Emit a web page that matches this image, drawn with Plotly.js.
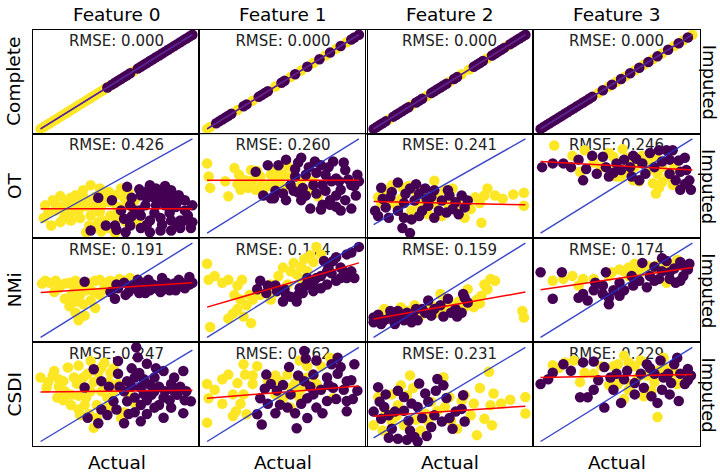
<!DOCTYPE html>
<html><head><meta charset="utf-8">
<script src="https://cdn.plot.ly/plotly-3.0.1.min.js"></script>
<style>html,body{margin:0;padding:0;background:#fff}#chart{width:720px;height:475px}</style>
</head><body><div id="chart"></div><script>
// ---------------- data (normalised units: actual range of each feature = 0..100) ----------------
const featureNames = ['Feature 0', 'Feature 1', 'Feature 2', 'Feature 3'];
const methodNames = ['Complete', 'OT', 'NMi', 'CSDI'];
const rmseLabels = [
  ['0.000', '0.000', '0.000', '0.000'],
  ['0.426', '0.260', '0.241', '0.246'],
  ['0.191', '0.174', '0.159', '0.174'],
  ['0.247', '0.262', '0.231', '0.229']
];
// regression line: imputed value at actual = 0 and at actual = 100
const fitStart = [[0, 0, 0, 0], [17, 56, 27, 76], [47.5, 32, 19.5, 50.5], [54, 46, 24, 68]];
const fitEnd   = [[100, 100, 100, 100], [17, 56, 23, 67], [58, 79, 48, 74], [56, 59, 35, 71]];

// Complete: imputed == actual
const C_F0_yellow = [0, 2, 4, 6, 8, 10, 12, 14, 16, 18, 20, 22, 24, 26, 28, 30, 32, 34, 36, 38, 40, 42, 44, 46, 61];
const C_F0_purple = [44, 47, 49, 51, 53, 55, 57, 59, 64, 66, 68, 70, 72, 74, 76, 78, 80, 82, 84, 86, 88, 90, 92, 94, 96, 98, 100];
const C_F1_yellow = [0, 2, 20, 30, 45, 55, 62, 70, 78, 85, 92];
const C_F1_purple = [6, 8, 10, 12, 14, 16, 24, 26, 34, 36, 38, 40, 49, 51, 58, 66, 74, 81, 88, 95, 97, 100];
const C_F2_yellow = [10, 25, 35, 50, 58, 63, 75, 88];
const C_F2_purple = [0, 2, 4, 6, 8, 13, 15, 17, 19, 21, 23, 28, 30, 32, 38, 40, 42, 44, 46, 48, 53, 55, 66, 68, 70, 72, 78, 80, 82, 84, 86, 90, 92, 94, 96, 98, 100];
const C_F3_yellow = [38, 45, 50, 56, 62, 68, 74, 80, 88, 94, 100];
const C_F3_purple = [0, 2, 4, 6, 8, 10, 12, 14, 16, 18, 20, 22, 24, 26, 28, 30, 32, 34, 41, 47, 53, 59, 65, 71, 77, 84, 91, 97];

// OT
const OT_F0_yellowX = [3,2,8,13,18,23,10,16,21,28,33,39,45,30,36,43,49,53,58,62,56,61,51,46,39,33,26,32,38,45,49,56,30,20,13,7,64,
  5,10,15,20,25,25,30,35,40,40,45,50,55,60,50,42,35,40,20,28,15];
const OT_F0_yellowY = [21,6,27,32,27,33,15,13,19,39,45,41,37,27,31,27,33,41,37,27,21,12,13,9,13,9,6,-3,1,-6,-12,1,-11,3,1,-3,1,
  12,22,20,12,15,25,20,20,20,35,25,20,30,20,5,2,-5,-10,30,32,5];
const OT_F0_purpleX = [38,33,57,47,53,59,66,71,76,80,86,91,95,100,69,76,82,89,97,100,92,86,79,72,66,59,66,72,79,86,92,99,56,49,43,62,79,72,82,
  60,65,70,75,80,85,90,95,85,75,65,60,70,80,90,95,55,50,85,75];
const OT_F0_purpleY = [30,-9,43,27,15,21,33,39,41,37,39,33,27,21,21,21,21,19,9,1,3,3,6,3,9,-3,-6,-11,-9,-9,-6,-6,-11,-3,-3,15,33,45,44,
  30,40,30,30,28,30,25,15,12,12,15,8,-2,-2,-2,3,5,-8,20,40];
const OT_F1_yellowX = [0,1,2,14,18,21,25,29,22,32,36,42,46,55,68,62,73,45,51,37,53,
  30,35,27,40,48,20,12,33,58,65,70,50];
const OT_F1_yellowY = [74,60,48,39,69,62,56,67,46,46,51,62,67,60,46,56,39,53,49,42,71,
  56,60,48,50,58,52,55,66,48,60,55,62];
const OT_F1_purpleX = [32,37,40,52,62,71,75,83,91,99,95,88,81,91,98,85,76,76,88,95,42,52,60,44,55,65,70,62,68,81,47,58,
  45,50,57,63,67,72,78,82,87,93,97,85,78,72,65,58,60,80,90,100,85,75];
const OT_F1_purpleY = [65,40,72,78,80,76,72,76,67,62,51,46,35,35,40,58,51,30,24,26,37,35,43,37,51,62,51,35,26,30,72,68,
  45,42,45,48,70,64,62,55,55,57,50,40,45,42,40,60,75,70,75,55,28,25];
const OT_F2_yellowX = [40,99,99,75,73,80,71,64,60,47,49,45,40,32,23,19,8,3,14,25,36,58,67,
  10,18,28,12,30,42,52,55,5,85,92,70];
const OT_F2_yellowY = [51,37,22,42,34,34,2,18,8,40,24,10,24,32,45,43,40,32,24,16,12,32,32,
  30,30,38,46,24,32,42,20,25,30,35,25];
const OT_F2_purpleX = [19,24,1,5,3,11,16,21,27,32,25,34,38,43,49,54,58,60,56,16,8,28,36,
  6,12,20,24,30,35,40,45,50,52,30,20,10,40,62,48];
const OT_F2_purpleY = [-4,-10,16,43,10,32,49,36,28,16,6,42,32,16,40,26,34,20,12,16,20,47,22,
  30,38,25,42,36,30,40,28,34,18,10,8,8,8,28,14];
const OT_F3_yellowX = [9,21,26,29,48,54,56,50,67,76,77,74,80,76,87,80,61,53,
  35,45,58,62,70,84,72,88,50,40,65,78];
const OT_F3_yellowY = [93,82,65,88,81,89,67,70,82,81,63,53,54,42,51,70,56,60,
  75,85,80,70,65,60,75,70,60,70,55,48];
const OT_F3_purpleX = [1,8,15,28,37,41,43,45,59,63,65,69,61,87,91,96,98,92,99,83,85,89,67,34,
  20,25,30,50,55,72,78,80,92,95,85,75,53,48,95,60];
const OT_F3_purpleY = [70,74,74,56,63,81,70,60,70,79,56,63,82,88,77,67,56,46,46,88,63,56,74,82,
  70,78,68,74,78,85,88,76,65,80,78,70,67,64,52,60];

// NMi
const NMI_F0_yellowX = [1,6,13,19,26,33,39,46,52,59,64,9,16,19,23,25,29,33,26,39,36,47,42,
  3,10,16,23,30,36,43,50,56,62,12,22,30,20,28,23,35];
const NMI_F0_yellowY = [57,58,55,58,56,58,61,60,62,63,61,48,41,33,26,18,23,39,45,45,31,50,52,
  60,60,57,60,56,60,58,57,60,58,52,50,50,44,35,38,48];
const NMI_F0_purpleX = [46,51,56,60,66,71,76,80,86,91,96,100,69,79,89,98,64,29,49,
  50,55,62,68,74,78,83,88,93,98,72,85,95,58,65,81];
const NMI_F0_purpleY = [48,52,45,55,50,61,52,63,54,61,55,58,47,48,50,64,61,59,41,
  56,58,52,58,56,55,58,57,58,56,50,50,52,48,47,51];
const NMI_F1_yellowX = [0,1,2,14,23,18,17,24,29,26,22,42,50,57,64,68,72,59,66,53,66,42,
  5,10,20,28,30,35,47,55,62,70,75,62,20,14,45];
const NMI_F1_yellowY = [78,61,11,61,61,45,25,22,15,34,40,56,74,79,83,87,96,67,70,56,56,40,
  65,58,55,45,40,45,65,70,75,80,88,62,30,20,48];
const NMI_F1_purpleX = [100,92,83,88,97,88,79,72,79,70,61,55,50,59,46,35,33,39,66,77,92,51,
  40,45,52,60,65,70,75,82,85,90,95,75,63,85,95,80];
const NMI_F1_purpleY = [96,88,81,74,63,63,70,63,56,49,52,43,38,38,49,60,51,47,63,81,63,51,
  55,55,45,45,55,58,65,68,60,70,70,52,47,85,90,75];
const NMI_F2_yellowX = [77,75,71,66,62,98,99,44,51,38,27,18,7,3,14,31,60,42,
  5,10,22,33,46,55,70,73,68,56,80,48];
const NMI_F2_yellowY = [62,51,44,32,51,28,21,46,34,34,34,32,30,23,21,23,32,26,
  20,26,28,28,30,30,36,56,40,38,60,40];
const NMI_F2_purpleX = [59,36,0,0,7,15,22,29,25,38,44,51,58,62,11,32,20,49,
  3,10,18,26,34,40,46,54,16,5,14,28,60,55];
const NMI_F2_purpleY = [46,39,21,16,18,23,26,18,16,23,34,26,26,37,28,30,18,41,
  24,20,22,22,26,30,22,30,28,14,14,30,42,22];
const NMI_F3_yellowX = [8,21,28,25,52,58,63,70,76,81,89,83,58,47,
  55,60,66,72,78,85,90,65,45,35,15,62];
const NMI_F3_yellowY = [60,65,62,55,72,74,72,76,76,81,79,58,65,69,
  70,70,74,73,72,76,82,68,65,62,62,78];
const NMI_F3_purpleX = [0,14,8,31,28,41,41,45,43,52,52,61,70,67,72,78,85,89,94,98,94,83,36,
  75,80,88,92,97,85,75,65,55,48,35,25,45,60,92,80];
const NMI_F3_purpleY = [69,69,41,39,46,55,46,35,69,44,58,55,53,79,65,62,69,58,76,78,65,81,58,
  75,70,73,80,72,62,60,60,50,50,50,42,42,65,60,84];

// CSDI
const CSDI_F0_yellowX = [0,4,9,18,11,20,26,35,37,31,40,46,51,42,33,24,15,20,44,37,29,62,53,33,25,
  5,8,12,16,22,28,35,38,45,48,40,30,25,15,25,32,45,55,58,12,42,48];
const CSDI_F0_yellowY = [70,59,77,81,48,40,29,15,26,74,81,75,63,63,55,63,66,51,48,40,40,42,26,88,83,
  65,72,60,55,70,70,65,75,65,55,55,48,50,45,35,30,38,32,50,68,86,80];
const CSDI_F0_purpleX = [63,64,94,99,94,81,66,55,44,31,40,35,51,57,66,75,81,86,90,81,73,66,75,86,57,48,29,55,70,51,
  60,62,68,72,78,82,88,92,96,78,70,62,58,50,62,70,85,95,88,76,60,65,52,45,75,68,40,38];
const CSDI_F0_purpleY = [103,92,77,44,31,26,22,20,29,26,66,79,74,66,59,70,77,63,51,48,51,40,37,37,44,44,59,55,85,88,
  60,70,68,62,60,55,55,60,55,40,45,48,30,35,32,30,45,45,70,80,80,75,60,60,55,52,35,20];
const CSDI_F1_yellowX = [0,1,0,14,24,25,30,17,24,19,26,17,48,53,55,50,61,66,61,72,81,83,55,
  10,20,5,30,33,40,45,58,62,70,75,66,10,22,58,45];
const CSDI_F1_yellowY = [61,46,20,71,82,71,61,50,50,32,29,27,64,71,57,46,86,68,46,61,89,46,36,
  66,62,55,70,80,65,70,62,56,70,80,80,40,40,52,50];
const CSDI_F1_purpleX = [64,54,39,42,35,33,36,59,66,53,48,72,70,79,88,92,99,92,83,79,72,66,55,46,86,97,92,
  60,64,68,75,80,86,90,95,96,85,76,62,58,45,40,38,50,70,82,65];
const CSDI_F1_purpleY = [96,79,71,61,46,29,18,14,25,36,39,86,71,68,79,64,54,43,57,43,36,46,50,54,89,82,32,
  70,64,58,55,60,72,55,65,45,45,30,40,30,30,40,56,60,50,82,88];
const CSDI_F2_yellowX = [24,46,76,18,22,60,79,77,73,78,68,58,100,100,3,0,12,6,20,34,38,47,51,31,16,
  8,15,28,36,42,50,66,84,90,70,12,26,55,64];
const CSDI_F2_yellowY = [69,67,73,58,47,47,49,36,21,14,3,41,45,27,45,14,18,8,14,27,40,34,19,8,36,
  30,24,20,18,30,45,38,38,42,55,48,55,10,25];
const CSDI_F2_purpleX = [3,4,0,5,16,14,23,27,29,16,29,34,41,42,45,38,54,58,60,59,25,7,
  8,10,12,20,20,24,32,36,40,48,50,35,22,10,46,30,52];
const CSDI_F2_purpleY = [56,40,29,21,52,29,19,1,-4,-1,34,49,52,65,18,12,29,32,18,47,38,34,
  48,25,10,30,45,8,22,40,25,44,22,2,-2,0,58,60,10];
const CSDI_F3_yellowX = [8,16,22,29,26,51,55,51,60,55,66,73,77,81,86,77,90,64,
  12,35,45,48,58,62,70,75,82,88,94,68,58,40];
const CSDI_F3_yellowY = [81,84,86,73,63,82,91,61,61,45,86,54,75,89,66,26,61,68,
  78,72,60,80,84,80,70,63,78,74,68,48,55,80];
const CSDI_F3_purpleX = [0,8,15,28,26,31,42,38,42,53,46,57,66,70,79,88,97,99,95,91,77,68,81,90,
  5,20,35,50,55,62,72,75,84,92,86,80,73,62,48,35,97,85];
const CSDI_F3_purpleY = [61,73,82,84,47,47,79,65,36,41,68,75,72,82,86,82,77,70,61,43,41,57,68,89,
  66,75,85,72,66,62,78,72,72,72,62,55,48,50,55,55,65,50];

// ---------------- assemble ----------------
const panels = [
  [
    {yx: C_F0_yellow, yy: C_F0_yellow, px: C_F0_purple, py: C_F0_purple},
    {yx: C_F1_yellow, yy: C_F1_yellow, px: C_F1_purple, py: C_F1_purple},
    {yx: C_F2_yellow, yy: C_F2_yellow, px: C_F2_purple, py: C_F2_purple},
    {yx: C_F3_yellow, yy: C_F3_yellow, px: C_F3_purple, py: C_F3_purple}
  ],
  [
    {yx: OT_F0_yellowX, yy: OT_F0_yellowY, px: OT_F0_purpleX, py: OT_F0_purpleY},
    {yx: OT_F1_yellowX, yy: OT_F1_yellowY, px: OT_F1_purpleX, py: OT_F1_purpleY},
    {yx: OT_F2_yellowX, yy: OT_F2_yellowY, px: OT_F2_purpleX, py: OT_F2_purpleY},
    {yx: OT_F3_yellowX, yy: OT_F3_yellowY, px: OT_F3_purpleX, py: OT_F3_purpleY}
  ],
  [
    {yx: NMI_F0_yellowX, yy: NMI_F0_yellowY, px: NMI_F0_purpleX, py: NMI_F0_purpleY},
    {yx: NMI_F1_yellowX, yy: NMI_F1_yellowY, px: NMI_F1_purpleX, py: NMI_F1_purpleY},
    {yx: NMI_F2_yellowX, yy: NMI_F2_yellowY, px: NMI_F2_purpleX, py: NMI_F2_purpleY},
    {yx: NMI_F3_yellowX, yy: NMI_F3_yellowY, px: NMI_F3_purpleX, py: NMI_F3_purpleY}
  ],
  [
    {yx: CSDI_F0_yellowX, yy: CSDI_F0_yellowY, px: CSDI_F0_purpleX, py: CSDI_F0_purpleY},
    {yx: CSDI_F1_yellowX, yy: CSDI_F1_yellowY, px: CSDI_F1_purpleX, py: CSDI_F1_purpleY},
    {yx: CSDI_F2_yellowX, yy: CSDI_F2_yellowY, px: CSDI_F2_purpleX, py: CSDI_F2_purpleY},
    {yx: CSDI_F3_yellowX, yy: CSDI_F3_yellowY, px: CSDI_F3_purpleX, py: CSDI_F3_purpleY}
  ]
];

const W = 720, H = 475;
const colL = [33, 199.5, 366, 533], colW = 167;
const rowT = [30, 134.2, 238.4, 342.6], rowH = 103.6;
const YELLOW = '#fde725', PURPLE = '#440154';
const FONT = 'DejaVu Sans, sans-serif';

function padRange(vals) {
  let lo = Math.min(0, ...vals), hi = Math.max(100, ...vals);
  const pad = 0.05 * (hi - lo);
  return [lo - pad, hi + pad];
}

const traces = [];
const layout = {
  width: W, height: H, margin: {l: 0, r: 0, t: 0, b: 0},
  paper_bgcolor: '#fff', plot_bgcolor: '#fff', showlegend: false,
  font: {family: FONT, color: '#000'},
  annotations: []
};

for (let r = 0; r < 4; r++) {
  for (let c = 0; c < 4; c++) {
    const k = r * 4 + c + 1;
    const sfx = k === 1 ? '' : String(k);
    const xa = 'x' + sfx, ya = 'y' + sfx;
    const p = panels[r][c];
    const xr = padRange([...p.yx, ...p.px]);
    const yr = padRange([...p.yy, ...p.py]);
    const axBase = {showticklabels: false, ticks: '', showgrid: false, zeroline: false,
      showline: true, mirror: true, linecolor: '#000', linewidth: 1.2, fixedrange: true};
    layout['xaxis' + sfx] = Object.assign({}, axBase, {domain: [colL[c] / W, (colL[c] + colW) / W], range: xr, anchor: ya});
    layout['yaxis' + sfx] = Object.assign({}, axBase, {domain: [1 - (rowT[r] + rowH) / H, 1 - rowT[r] / H], range: yr, anchor: xa});

    // RMSE text (drawn under the points)
    const unitsPerPx = (yr[1] - yr[0]) / rowH;
    traces.push({type: 'scatter', mode: 'text', x: [50], y: [yr[1] - 12.5 * unitsPerPx],
      text: ['RMSE: ' + rmseLabels[r][c]], textposition: 'middle center',
      textfont: {family: FONT, size: 15, color: '#222'}, xaxis: xa, yaxis: ya, hoverinfo: 'skip'});
    // observed / imputed points
    traces.push({type: 'scatter', mode: 'markers', x: p.yx, y: p.yy, xaxis: xa, yaxis: ya,
      marker: {color: YELLOW, size: 10.5, line: {width: 0}}, cliponaxis: false, hoverinfo: 'skip'});
    traces.push({type: 'scatter', mode: 'markers', x: p.px, y: p.py, xaxis: xa, yaxis: ya,
      marker: {color: PURPLE, size: 10.5, line: {width: 0}}, cliponaxis: false, hoverinfo: 'skip'});
    // regression line
    traces.push({type: 'scatter', mode: 'lines', x: [0, 100], y: [fitStart[r][c], fitEnd[r][c]], xaxis: xa, yaxis: ya,
      line: {color: '#ff0000', width: 1.5}, hoverinfo: 'skip'});
    // identity line (on top)
    traces.push({type: 'scatter', mode: 'lines', x: [0, 100], y: [0, 100], xaxis: xa, yaxis: ya,
      line: {color: 'rgba(35,50,195,0.9)', width: 1.4}, hoverinfo: 'skip'});
  }
}

// column titles, row labels, axis labels
for (let c = 0; c < 4; c++) {
  const cx = (colL[c] + colW / 2) / W;
  layout.annotations.push({text: featureNames[c], xref: 'paper', yref: 'paper', x: cx, y: 1 - 14 / H,
    xanchor: 'center', yanchor: 'middle', showarrow: false, font: {family: FONT, size: 18.5, color: '#000'}});
  layout.annotations.push({text: 'Actual', xref: 'paper', yref: 'paper', x: cx, y: 1 - 462 / H,
    xanchor: 'center', yanchor: 'middle', showarrow: false, font: {family: FONT, size: 18.5, color: '#000'}});
}
for (let r = 0; r < 4; r++) {
  const cy = 1 - (rowT[r] + rowH / 2) / H;
  layout.annotations.push({text: methodNames[r], xref: 'paper', yref: 'paper', x: 14 / W, y: cy,
    xanchor: 'center', yanchor: 'middle', textangle: -90, showarrow: false, font: {family: FONT, size: 18.5, color: '#000'}});
  layout.annotations.push({text: 'Imputed', xref: 'paper', yref: 'paper', x: 709 / W, y: cy,
    xanchor: 'center', yanchor: 'middle', textangle: 90, showarrow: false, font: {family: FONT, size: 18, color: '#000'}});
}

Plotly.newPlot('chart', traces, layout, {staticPlot: true, displayModeBar: false});
</script></body></html>
